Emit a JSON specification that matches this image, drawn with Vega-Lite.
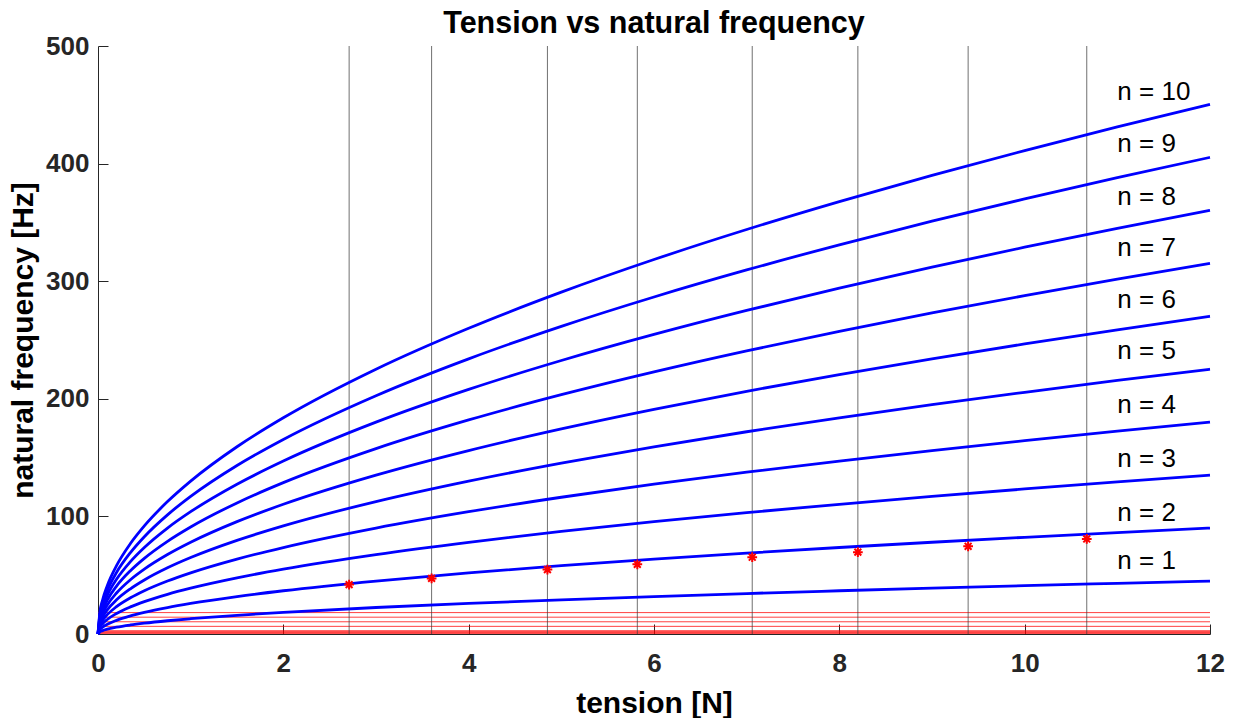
{
  "$schema": "https://vega.github.io/schema/vega-lite/v6.json",
  "width": 1112,
  "height": 588,
  "autosize": {"type": "none"},
  "padding": {"left": 98, "top": 46, "right": 26, "bottom": 84},
  "background": "white",
  "title": {"text": "Tension vs natural frequency", "fontSize": 30.5, "font": "Liberation Sans", "fontWeight": "bold", "color": "#000000", "baseline": "bottom", "offset": 6, "dy": 42, "frame": "group"},
  "config": {
    "view": {"stroke": null},
    "axis": {"grid": false, "domainColor": "#262626", "tickColor": "#262626", "labelColor": "#262626", "titleColor": "#000000", "labelFont": "Liberation Sans", "titleFont": "Liberation Sans", "labelFontWeight": "bold", "titleFontWeight": "bold", "labelFontSize": 26, "titleFontSize": 30, "tickSize": -10, "domainWidth": 1, "tickWidth": 1, "labelFlush": false, "labelOverlap": false, "format": "d"},
    "axisX": {"labelPadding": 26, "titleBaseline": "alphabetic", "titleY": 78},
    "axisY": {"labelPadding": 19, "titleX": -75, "titleY": 294, "titleAngle": -90, "titleBaseline": "middle"}
  },
  "datasets": {
    "curves": [
      {"T": 0, "n1": 0, "n2": 0, "n3": 0, "n4": 0, "n5": 0, "n6": 0, "n7": 0, "n8": 0, "n9": 0, "n10": 0},
      {"T": 0.02, "n1": 1.84, "n2": 3.68, "n3": 5.51, "n4": 7.35, "n5": 9.19, "n6": 11.03, "n7": 12.87, "n8": 14.70, "n9": 16.54, "n10": 18.38},
      {"T": 0.05, "n1": 2.91, "n2": 5.81, "n3": 8.72, "n4": 11.63, "n5": 14.53, "n6": 17.44, "n7": 20.35, "n8": 23.26, "n9": 26.16, "n10": 29.07},
      {"T": 0.1, "n1": 4.11, "n2": 8.22, "n3": 12.33, "n4": 16.44, "n5": 20.55, "n6": 24.67, "n7": 28.78, "n8": 32.89, "n9": 37.00, "n10": 41.11},
      {"T": 0.2, "n1": 5.81, "n2": 11.63, "n3": 17.44, "n4": 23.26, "n5": 29.07, "n6": 34.88, "n7": 40.70, "n8": 46.51, "n9": 52.33, "n10": 58.14},
      {"T": 0.35, "n1": 7.69, "n2": 15.38, "n3": 23.07, "n4": 30.76, "n5": 38.46, "n6": 46.15, "n7": 53.84, "n8": 61.53, "n9": 69.22, "n10": 76.91},
      {"T": 0.5, "n1": 9.19, "n2": 18.38, "n3": 27.58, "n4": 36.77, "n5": 45.96, "n6": 55.15, "n7": 64.35, "n8": 73.54, "n9": 82.73, "n10": 91.92},
      {"T": 0.75, "n1": 11.26, "n2": 22.52, "n3": 33.77, "n4": 45.03, "n5": 56.29, "n6": 67.55, "n7": 78.81, "n8": 90.07, "n9": 101.32, "n10": 112.58},
      {"T": 1, "n1": 13, "n2": 26, "n3": 39, "n4": 52, "n5": 65, "n6": 78, "n7": 91, "n8": 104, "n9": 117, "n10": 130},
      {"T": 1.5, "n1": 15.92, "n2": 31.84, "n3": 47.76, "n4": 63.68, "n5": 79.60, "n6": 95.53, "n7": 111.45, "n8": 127.37, "n9": 143.29, "n10": 159.21},
      {"T": 2, "n1": 18.38, "n2": 36.77, "n3": 55.15, "n4": 73.54, "n5": 91.92, "n6": 110.31, "n7": 128.69, "n8": 147.08, "n9": 165.46, "n10": 183.85},
      {"T": 3, "n1": 22.52, "n2": 45.03, "n3": 67.55, "n4": 90.07, "n5": 112.58, "n6": 135.10, "n7": 157.62, "n8": 180.13, "n9": 202.65, "n10": 225.17},
      {"T": 4, "n1": 26, "n2": 52, "n3": 78, "n4": 104, "n5": 130, "n6": 156, "n7": 182, "n8": 208, "n9": 234, "n10": 260},
      {"T": 5, "n1": 29.07, "n2": 58.14, "n3": 87.21, "n4": 116.28, "n5": 145.34, "n6": 174.41, "n7": 203.48, "n8": 232.55, "n9": 261.62, "n10": 290.69},
      {"T": 6, "n1": 31.84, "n2": 63.69, "n3": 95.53, "n4": 127.37, "n5": 159.22, "n6": 191.06, "n7": 222.90, "n8": 254.74, "n9": 286.59, "n10": 318.43},
      {"T": 7, "n1": 34.40, "n2": 68.79, "n3": 103.19, "n4": 137.58, "n5": 171.98, "n6": 206.37, "n7": 240.77, "n8": 275.16, "n9": 309.56, "n10": 343.95},
      {"T": 8, "n1": 36.77, "n2": 73.54, "n3": 110.31, "n4": 147.08, "n5": 183.85, "n6": 220.62, "n7": 257.39, "n8": 294.16, "n9": 330.93, "n10": 367.70},
      {"T": 9, "n1": 39, "n2": 78, "n3": 117, "n4": 156, "n5": 195, "n6": 234, "n7": 273, "n8": 312, "n9": 351, "n10": 390},
      {"T": 10, "n1": 41.11, "n2": 82.22, "n3": 123.33, "n4": 164.44, "n5": 205.55, "n6": 246.66, "n7": 287.77, "n8": 328.88, "n9": 369.99, "n10": 411.10},
      {"T": 11, "n1": 43.12, "n2": 86.23, "n3": 129.35, "n4": 172.46, "n5": 215.58, "n6": 258.70, "n7": 301.81, "n8": 344.93, "n9": 388.04, "n10": 431.16},
      {"T": 12, "n1": 45.03, "n2": 90.07, "n3": 135.10, "n4": 180.13, "n5": 225.17, "n6": 270.20, "n7": 315.23, "n8": 360.26, "n9": 405.30, "n10": 450.33}
    ],
    "hlines": [
      {"f": 18.2}, {"f": 14.3}, {"f": 10.4}, {"f": 6.5}, {"f": 2.8}, {"f": 2.0}, {"f": 1.2}, {"f": 0.5}
    ],
    "vlines": [
      {"T": 2.71}, {"T": 3.60}, {"T": 4.85}, {"T": 5.82}, {"T": 7.06}, {"T": 8.20}, {"T": 9.39}, {"T": 10.67}
    ],
    "measured": [
      {"T": 2.71, "f": 42.0}, {"T": 3.60, "f": 47.3}, {"T": 4.85, "f": 54.8}, {"T": 5.82, "f": 59.3},
      {"T": 7.06, "f": 65.3}, {"T": 8.20, "f": 69.6}, {"T": 9.39, "f": 74.6}, {"T": 10.67, "f": 80.8}
    ],
    "labels": [
      {"label": "n = 10", "T": 11.0, "f": 461},
      {"label": "n = 9", "T": 11.0, "f": 417},
      {"label": "n = 8", "T": 11.0, "f": 372},
      {"label": "n = 7", "T": 11.0, "f": 328},
      {"label": "n = 6", "T": 11.0, "f": 284},
      {"label": "n = 5", "T": 11.0, "f": 241},
      {"label": "n = 4", "T": 11.0, "f": 195},
      {"label": "n = 3", "T": 11.0, "f": 149},
      {"label": "n = 2", "T": 11.0, "f": 103},
      {"label": "n = 1", "T": 11.0, "f": 62}
    ]
  },
  "layer": [
    {
      "data": {"name": "hlines"},
      "mark": {"type": "rule", "color": "#ff0000", "strokeWidth": 1, "opacity": 0.75},
      "encoding": {
        "y": {"field": "f", "type": "quantitative", "title": "natural frequency [Hz]", "scale": {"domain": [0, 500], "nice": false}, "axis": {"values": [0, 100, 200, 300, 400, 500]}}
      }
    },
    {
      "data": {"name": "vlines"},
      "mark": {"type": "rule", "color": "#404040", "strokeWidth": 1, "opacity": 0.75},
      "encoding": {
        "x": {"field": "T", "type": "quantitative", "title": "tension [N]", "scale": {"domain": [0, 12], "nice": false}, "axis": {"values": [0, 2, 4, 6, 8, 10, 12]}}
      }
    },
    {
      "data": {"name": "curves"},
      "transform": [{"fold": ["n1", "n2", "n3", "n4", "n5", "n6", "n7", "n8", "n9", "n10"], "as": ["n", "f"]}],
      "mark": {"type": "line", "color": "#0000ff", "strokeWidth": 2.8, "interpolate": "monotone"},
      "encoding": {
        "x": {"field": "T", "type": "quantitative", "title": "tension [N]"},
        "y": {"field": "f", "type": "quantitative", "title": "natural frequency [Hz]"},
        "detail": {"field": "n", "type": "nominal"}
      }
    },
    {
      "data": {"name": "measured"},
      "mark": {"type": "point", "shape": "M-1,0L1,0M0,-1L0,1M-0.7,-0.7L0.7,0.7M-0.7,0.7L0.7,-0.7", "filled": false, "stroke": "#ff0000", "strokeWidth": 2, "size": 95, "opacity": 1},
      "encoding": {
        "x": {"field": "T", "type": "quantitative", "title": "tension [N]"},
        "y": {"field": "f", "type": "quantitative", "title": "natural frequency [Hz]"}
      }
    },
    {
      "data": {"name": "labels"},
      "mark": {"type": "text", "align": "left", "baseline": "middle", "font": "Liberation Sans", "fontSize": 26, "color": "#000000"},
      "encoding": {
        "x": {"field": "T", "type": "quantitative", "title": "tension [N]"},
        "y": {"field": "f", "type": "quantitative", "title": "natural frequency [Hz]"},
        "text": {"field": "label", "type": "nominal"}
      }
    }
  ]
}
